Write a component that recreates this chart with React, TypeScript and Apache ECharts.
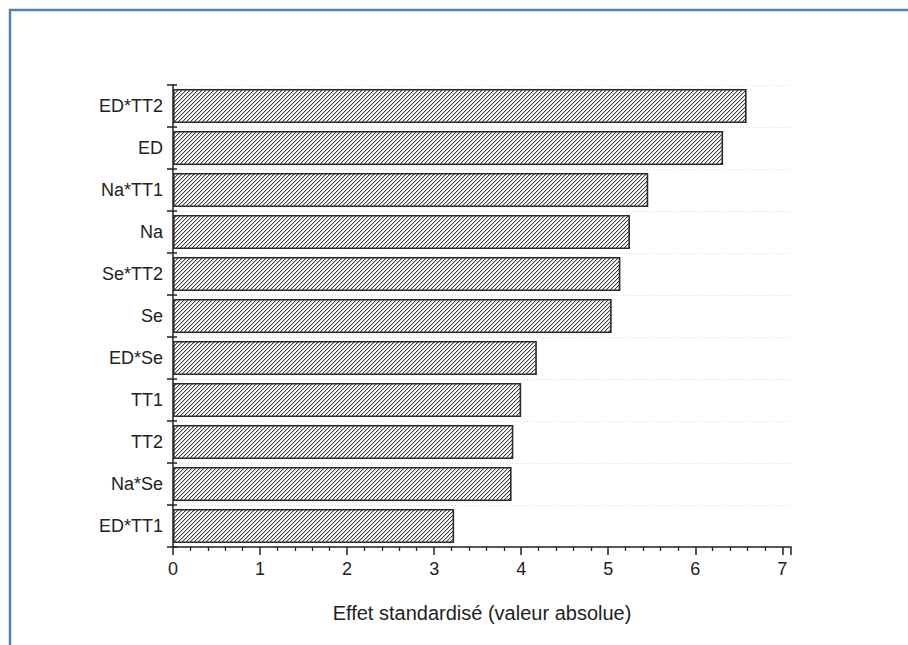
import React, { useEffect, useRef } from "react";
import * as echarts from "echarts";

const categories = ["ED*TT2", "ED", "Na*TT1", "Na", "Se*TT2", "Se", "ED*Se", "TT1", "TT2", "Na*Se", "ED*TT1"];
const effects = [6.59, 6.32, 5.46, 5.25, 5.14, 5.04, 4.18, 4.0, 3.91, 3.89, 3.23];
const axisTitle = "Effet standardisé (valeur absolue)";

function makeHatch(): HTMLCanvasElement {
  const c = document.createElement("canvas");
  c.width = 4;
  c.height = 4;
  const ctx = c.getContext("2d")!;
  ctx.fillStyle = "#ffffff";
  ctx.fillRect(0, 0, 4, 4);
  for (let i = 0; i < 4; i++) {
    ctx.fillStyle = "#3c3c3c";
    ctx.fillRect(i, 3 - i, 1, 1);
    ctx.fillStyle = "#c4c4c4";
    ctx.fillRect((i + 1) % 4, 3 - i, 1, 1);
  }
  return c;
}

export default function App() {
  const ref = useRef<HTMLDivElement>(null);
  useEffect(() => {
    if (!ref.current) return;
    const chart = echarts.init(ref.current, null, { renderer: "svg" });
    const font = "'Liberation Sans', Arial, sans-serif";
    chart.setOption({
      animation: false,
      backgroundColor: "#ffffff",
      textStyle: { fontFamily: font },
      graphic: [
        {
          type: "rect",
          shape: { x: 10, y: 10, width: 1000, height: 1000 },
          style: { fill: "none", stroke: "#4f81bd", lineWidth: 2.5 },
          silent: true,
        },
      ],
      grid: { left: 173, top: 85, width: 618, height: 462 },
      xAxis: {
        type: "value",
        min: 0,
        max: 7.1,
        interval: 1,
        name: axisTitle,
        nameLocation: "middle",
        nameGap: 56,
        nameTextStyle: { fontSize: 20, color: "#222", fontFamily: font },
        axisLine: { show: true, lineStyle: { color: "#222", width: 1.5 } },
        axisTick: { show: true, length: 8, lineStyle: { color: "#222", width: 1.5 } },
        minorTick: { show: true, splitNumber: 5, length: 4, lineStyle: { color: "#222", width: 1.3 } },
        axisLabel: {
          fontSize: 18,
          color: "#222",
          margin: 13,
          fontFamily: font,
          formatter: (v: number) => (Number.isInteger(v) ? String(v) : ""),
        },
        splitLine: { show: false },
      },
      yAxis: [
        {
          type: "category",
          data: categories,
          inverse: true,
          axisLine: { show: true, lineStyle: { color: "#222", width: 1.5 } },
          axisTick: { show: true, length: 6, lineStyle: { color: "#222", width: 1.5 } },
          axisLabel: { fontSize: 18, color: "#222", margin: 10, fontFamily: font },
          splitLine: { show: true, lineStyle: { color: "#dadada", type: [1, 2], width: 1 } },
        },
        {
          type: "category",
          data: categories,
          inverse: true,
          position: "left",
          axisLine: { show: false },
          axisTick: { show: true, inside: true, length: 4, lineStyle: { color: "#222", width: 1.5 } },
          axisLabel: { show: false },
          splitLine: { show: false },
        },
      ],
      series: [
        {
          type: "bar",
          data: effects,
          yAxisIndex: 0,
          barWidth: 34,
          itemStyle: {
            color: { image: makeHatch(), repeat: "repeat" },
            borderColor: "#2a2a2a",
            borderWidth: 1.6,
          },
        },
      ],
    });
    return () => chart.dispose();
  }, []);
  return <div ref={ref} style={{ position: "fixed", left: 0, top: 0, width: 908, height: 645 }} />;
}
